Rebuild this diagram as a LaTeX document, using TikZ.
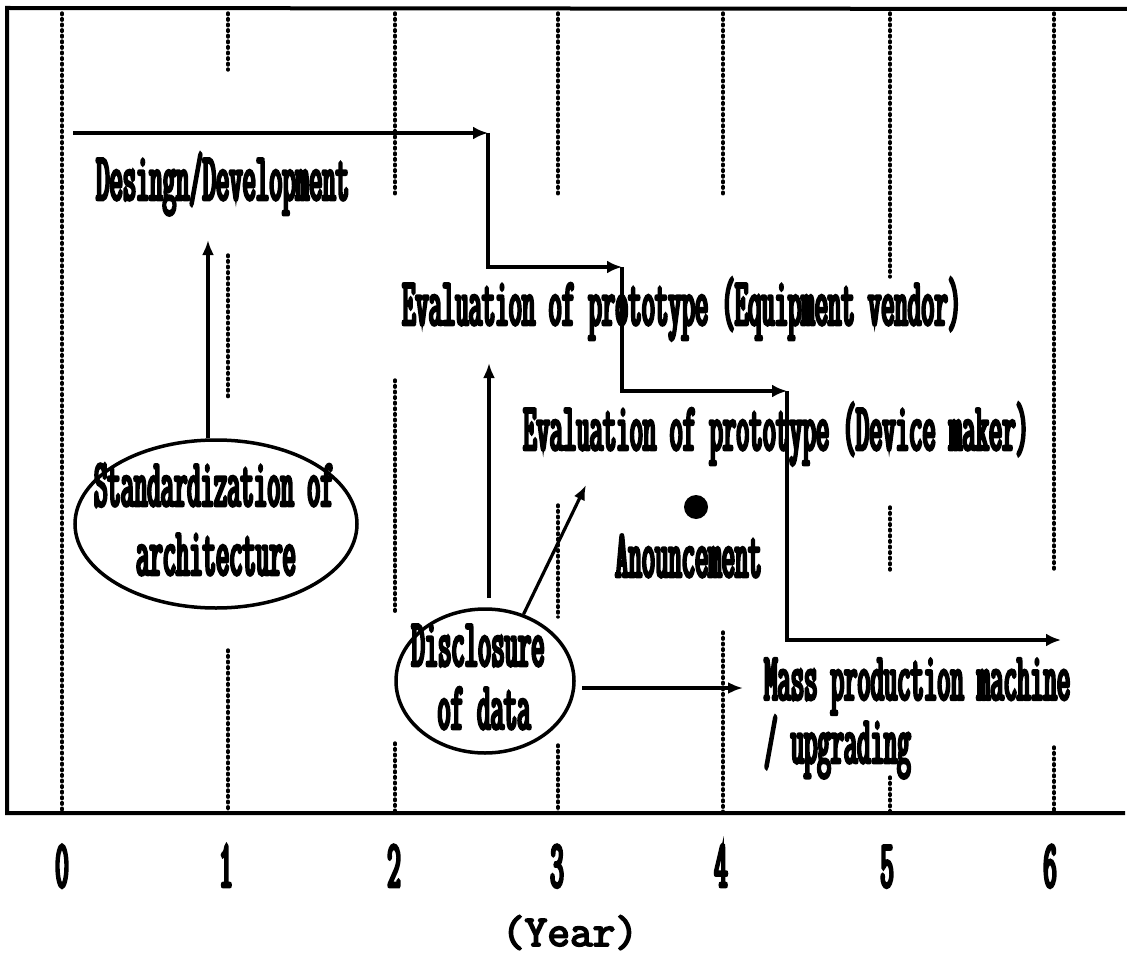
\documentclass[tikz,border=0pt]{standalone}
\usepackage{fontspec}
\newfontfamily\cf[FakeStretch=0.38,FakeBold=4]{Latin Modern Mono}
\newfontfamily\yf[FakeBold=4]{Latin Modern Mono}
\usetikzlibrary{arrows.meta,shapes.geometric}
\begin{document}
\begin{tikzpicture}[x=1pt,y=-1pt,
  lbl/.style={font=\cf\fontsize{68}{68}\selectfont, inner sep=0pt},
  gridline/.style={line width=3.4pt, line cap=round, dash pattern=on 1.6pt off 4pt},
  frame/.style={line width=4pt},
  stairs/.style={line width=4.2pt, -{Latex[length=15pt,width=13pt]}},
  thinarr/.style={line width=3.2pt, -{Latex[length=15pt,width=12pt]}},
  oval/.style={draw, ellipse, line width=3.5pt, inner sep=0pt},
]
\useasboundingbox (0,0) rectangle (1127,960);
% dotted year lines
\draw[gridline] (62,13) -- (62,813);
\draw[gridline] (228,13) -- (228,70);
\draw[gridline] (228,255) -- (228,397);
\draw[gridline] (228,650) -- (228,813);
\draw[gridline] (395,13) -- (395,195);
\draw[gridline] (395,380) -- (395,615);
\draw[gridline] (395,743) -- (395,813);
\draw[gridline] (558,13) -- (558,195);
\draw[gridline] (558,505) -- (558,617);
\draw[gridline] (558,745) -- (558,813);
\draw[gridline] (723,13) -- (723,195);
\draw[gridline] (723,632) -- (723,813);
\draw[gridline] (890,13) -- (890,277);
\draw[gridline] (890,507) -- (890,570);
\draw[gridline] (890,777) -- (890,813);
\draw[gridline] (1054,13) -- (1054,570);
\draw[gridline] (1054,747) -- (1054,813);
% frame and axis
\draw[frame] (1127,9) -- (7,8) -- (7,813) -- (1125,813);
% axis labels
\node[lbl, anchor=base] (y0) at (62,887) {0};
\node[lbl, anchor=base] (y1) at (226,887) {1};
\node[lbl, anchor=base] (y2) at (394,887) {2};
\node[lbl, anchor=base] (y3) at (557,887) {3};
\node[lbl, anchor=base] (y4) at (721,887) {4};
\node[lbl, anchor=base] (y5) at (887,887) {5};
\node[lbl, anchor=base] (y6) at (1050,887) {6};
\node[font=\yf\fontsize{44}{44}\selectfont, anchor=base, inner sep=0pt] (yr) at (570,946) {(Year)};
% staircase
\coordinate (p0) at (73,133);
\coordinate (p1) at (488,133);
\coordinate (p2) at (622,267);
\coordinate (p3) at (787,391);
\coordinate (p4) at (1061,640);
\draw[stairs] (p0) -- (p1);
\draw[stairs] (p1) |- (p2);
\draw[stairs] (p2) |- (p3);
\draw[stairs] (p3) |- (p4);
% texts
\node[lbl, anchor=base west] (dd) at (96,200) {Desingn/Development};
\node[lbl, anchor=base west] (ev1) at (402,325) {Evaluation of prototype (Equipment vendor)};
\node[lbl, anchor=base west] (ev2) at (523,450) {Evaluation of prototype (Device maker)};
\node[lbl, anchor=base west] (ann) at (615,577) {Anouncement};
\node[lbl, font=\cf\fontsize{68}{60}\selectfont, align=left, anchor=north west] (mp) at (764,658) {Mass production machine\\/ upgrading};
% ellipses
\node[oval, minimum width=282pt, minimum height=168pt] (std) at (216,524) {};
\node[lbl, anchor=base] (std1) at (214,506) {Standardization of};
\node[lbl, anchor=base] (std2) at (216,575) {architecture};
\node[oval, minimum width=178pt, minimum height=144pt] (dis) at (485,681) {};
\node[lbl, anchor=base] (dis1) at (478,666) {Disclosure};
\node[lbl, anchor=base] (dis2) at (484,729) {of data};
% announcement dot
\node[circle, fill, minimum size=24pt, inner sep=0pt] (dot) at (696,507) {};
% thin arrows
\coordinate (ddT) at (208,240);
\draw[thinarr] (std.north -| ddT) -- (ddT);
\coordinate (upS) at (489,598);
\coordinate (upT) at (489,363);
\draw[thinarr] (upS) -- (upT);
\coordinate (dgT) at (586,485);
\draw[thinarr] (dis.60) -- (dgT);
\coordinate (hS) at (582,688);
\draw[thinarr] (hS) -- ([xshift=-21pt]mp.west |- hS);
\end{tikzpicture}
\end{document}
